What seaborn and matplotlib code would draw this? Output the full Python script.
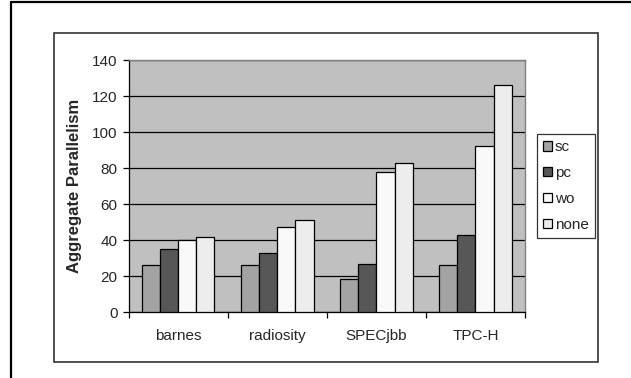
import matplotlib
matplotlib.use("Agg")
import matplotlib.pyplot as plt
from matplotlib.patches import Rectangle
from matplotlib.lines import Line2D
from matplotlib.ticker import FixedLocator
import seaborn as sns
import pandas as pd

categories = ["barnes", "radiosity", "SPECjbb", "TPC-H"]
series = ["sc", "pc", "wo", "none"]
sc = [26, 26, 18.5, 26]
pc = [35, 33, 26.5, 43]
wo = [40, 47.5, 78, 92]
none = [41.5, 51, 83, 126]
yticks = [0, 20, 40, 60, 80, 100, 120, 140]
colors = ["#A3A3A3", "#575757", "#F9F9F9", "#EDEDED"]

rows = []
for s, vals in zip(series, [sc, pc, wo, none]):
    for c, v in zip(categories, vals):
        rows.append({"bench": c, "model": s, "value": v})
df = pd.DataFrame(rows)

sns.set_theme(style="white")
plt.rcParams["font.family"] = ["Liberation Sans", "DejaVu Sans"]

fig = plt.figure(figsize=(6.31, 3.78), dpi=100)
fig.patch.set_facecolor("white")

# frames
fig.add_artist(Rectangle((53.5 / 631, 1 - 362 / 378), (597.5 - 53.5) / 631, (362 - 33) / 378,
                         transform=fig.transFigure, fill=False, edgecolor="#333333", linewidth=1.2))
fig.add_artist(Line2D([11 / 631, 11 / 631], [0, 1 - 2 / 378], transform=fig.transFigure,
                      color="black", linewidth=1.6))
fig.add_artist(Line2D([11 / 631, 1], [1 - 2 / 378, 1 - 2 / 378], transform=fig.transFigure,
                      color="black", linewidth=1.6))

ax = fig.add_axes([128.8 / 631, 1 - 312 / 378, (525 - 128.8) / 631, (312 - 60) / 378])
ax.set_facecolor("#C0C0C0")
sns.barplot(data=df, x="bench", y="value", hue="model", order=categories, hue_order=series,
            palette=colors, width=0.73, gap=0, edgecolor="black", linewidth=0.9,
            saturation=1, ax=ax, zorder=3, legend=True)

ax.set_ylim(0, 140)
ax.set_xlim(-0.5, 3.5)
ax.set_yticks(yticks)
ax.set_yticklabels([str(t) for t in yticks], fontsize=11)
ax.yaxis.grid(True, color="black", linewidth=0.9, zorder=0)
ax.set_axisbelow(True)
ax.tick_params(axis="y", direction="out", length=4, width=0.9, color="black", left=True, pad=4)
ax.tick_params(axis="x", which="major", length=0, pad=12, labelsize=11)
ax.xaxis.set_minor_locator(FixedLocator([-0.5, 0.5, 1.5, 2.5, 3.5]))
ax.tick_params(axis="x", which="minor", direction="out", length=4, width=0.9, color="black", bottom=True)
ax.set_xlabel("")
ax.set_ylabel("Aggregate Parallelism", fontsize=12, fontweight="bold", labelpad=7)

for side in ["left", "bottom"]:
    ax.spines[side].set_color("black")
    ax.spines[side].set_linewidth(0.9)
for side in ["top", "right"]:
    ax.spines[side].set_color("#808080")
    ax.spines[side].set_linewidth(1.0)

handles, labels = ax.get_legend_handles_labels()
ax.legend_.remove()
leg = fig.legend(handles, labels, loc="upper left", bbox_to_anchor=(537 / 631, 1 - 134 / 378),
                 frameon=True, fancybox=False, fontsize=11, handlelength=0.6, handleheight=0.6,
                 handletextpad=0.15, labelspacing=0.78, borderpad=0.4, borderaxespad=0)
leg.get_frame().set_edgecolor("black")
leg.get_frame().set_linewidth(0.9)
leg.get_frame().set_facecolor("white")

fig.savefig("out.png", dpi=100, facecolor="white")
